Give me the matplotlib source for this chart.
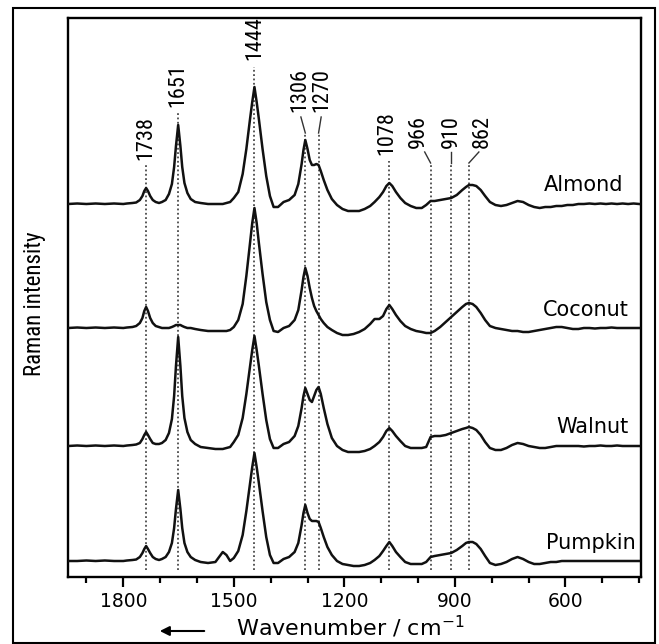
import numpy as np
import matplotlib
matplotlib.use('Agg')
import matplotlib.pyplot as plt
from matplotlib.patches import Rectangle, FancyArrowPatch
from matplotlib.ticker import MultipleLocator

# wavenumber grid (cm-1)
wavenumber = [1950, 1925, 1900, 1875, 1850, 1825, 1800, 1790, 1775, 1765,
              1755, 1748, 1743, 1738, 1733, 1727, 1720, 1712, 1703, 1695,
              1685, 1676, 1668, 1662, 1657, 1651, 1645, 1640, 1634, 1626,
              1617, 1605, 1590, 1570, 1550, 1540, 1530, 1520, 1510, 1500,
              1488, 1476, 1466, 1456, 1450, 1444, 1438, 1432, 1422, 1412,
              1402, 1392, 1380, 1365, 1350, 1335, 1325, 1316, 1311, 1306,
              1300, 1294, 1288, 1282, 1276, 1270, 1264, 1256, 1246, 1234,
              1220, 1205, 1190, 1175, 1160, 1145, 1130, 1118, 1105, 1095,
              1086, 1078, 1070, 1060, 1048, 1035, 1020, 1005, 990, 978,
              966, 955, 940, 925, 910, 895, 880, 870, 862, 852,
              842, 830, 818, 805, 790, 775, 760, 745, 730, 715,
              700, 685, 670, 655, 640, 625, 610, 595, 580, 565,
              550, 535, 520, 505, 490, 475, 460, 445, 430, 415,
              400]

almond = [0, 0.5, 0, 0.5, 0, 0.5, 0, 0.5, 1, 1.5,
          4, 8, 13, 16, 13, 8, 4, 2, 1, 2,
          4, 10, 20, 37, 58, 79, 58, 37, 21, 11,
          5, 2, 1, 0, 0, 0, 0, 1, 2, 6,
          12, 30, 55, 85, 102, 117, 102, 85, 55, 28,
          8, -3, -3, 2, 4, 9, 20, 40, 54, 64,
          55, 44, 39, 39, 40, 39, 33, 24, 14, 5,
          -1, -5, -7, -7, -7, -5, -2, 2, 7, 12,
          18, 21, 18, 12, 6, 1, -2, -4, -4, -1,
          3, 3, 4, 5, 6, 9, 14, 17, 19, 19,
          18, 14, 8, 2, -1, -2, -1, 1, 3, 2,
          -1, -3, -4, -3, -3, -2, -2, -1, -1, 0,
          0, 0.5, 0, 0.5, 0, 0.5, 0, 0.5, 0, 0.5,
          0]

coconut = [0, 0.5, 0, 0.5, 0, 0.5, 0, 0.5, 1, 2,
           5, 10, 17, 21, 17, 10, 5, 2, 1, 0,
           0, 0, 1, 2, 3, 3, 3, 2, 1, 0,
           0, -1, -2, -3, -3, -3, -3, -3, -2, 1,
           8, 24, 52, 85, 105, 120, 105, 85, 54, 26,
           8, -3, -4, 0, 2, 8, 18, 38, 51, 60,
           52, 40, 30, 22, 17, 13, 9, 5, 1, -2,
           -5, -7, -7, -6, -4, -1, 4, 9, 9, 12,
           19, 23, 19, 13, 7, 2, -1, -3, -4, -5,
           -5, -3, 1, 6, 11, 16, 21, 24, 25, 24,
           21, 15, 8, 2, 0, -1, -2, -3, -3, -4,
           -4, -3, -2, -1, 0, 1, 1, 0, -1, -1,
           0, 0, -0.5, 0, 0, 0.5, 0, 0, 0, 0,
           0]

walnut = [0, 0.5, 0, 0.5, 0, 0.5, 0, 0.5, 1, 1.5,
          3, 7, 11, 14, 11, 7, 3, 2, 2, 3,
          6, 13, 27, 50, 80, 109, 80, 50, 28, 14,
          6, 2, -1, -2, -3, -3, -3, -2, -1, 4,
          11, 28, 52, 80, 96, 110, 96, 80, 52, 26,
          7, -2, -2, 2, 4, 10, 20, 38, 50, 58,
          52, 46, 44, 50, 56, 59, 52, 38, 22, 8,
          0, -4, -6, -6, -6, -5, -3, 0, 4, 9,
          15, 18, 15, 10, 5, 0, -2, -2, -2, -1,
          9, 10, 10, 11, 13, 15, 17, 18, 19, 18,
          16, 11, 4, -2, -4, -4, -2, 1, 3, 2,
          0, -1, -2, -2, -1, 0, 0, 0, 0, 0,
          -0.5, 0, 0, 0.5, 0, 0, 0.5, 0, 0, 0,
          0]

pumpkin = [0, 0, 0.5, 0, 0.5, 0, 0, 0.5, 1, 1.5,
           4, 8, 12, 15, 12, 8, 4, 2, 1, 2,
           4, 9, 18, 33, 52, 71, 52, 33, 18, 9,
           4, 1, -1, -2, -1, 4, 9, 6, 0, 3,
           10, 26, 50, 78, 94, 108, 94, 78, 50, 24,
           6, -2, -2, 2, 4, 9, 18, 36, 48, 56,
           48, 42, 40, 40, 40, 39, 33, 24, 14, 6,
           0, -3, -4, -5, -5, -4, -2, 1, 5, 10,
           15, 19, 15, 9, 4, -1, -3, -3, -3, -1,
           4, 5, 6, 7, 8, 11, 15, 18, 19, 19,
           17, 12, 5, -2, -4, -3, -1, 2, 4, 2,
           -1, -3, -3, -2, -1, -1, 0, 0, 0, 0,
           0, 0, 0, 0, 0, 0, 0, 0, 0, 0,
           0]

samples = ['Almond', 'Coconut', 'Walnut', 'Pumpkin']
spectra = [almond, coconut, walnut, pumpkin]
offsets = [373, 249, 131, 16]

peaks = [1738, 1651, 1444, 1306, 1270, 1078, 966, 910, 862]

narrow = ['Roboto Condensed', 'Liberation Sans', 'DejaVu Sans']
wide = 'DejaVu Sans'

fig = plt.figure(figsize=(6.59, 6.44), dpi=100)
ax = fig.add_axes([68/659, 67/644, 573/659, 559/644])

for vals, off in zip(spectra, offsets):
    ax.plot(wavenumber, np.array(vals) + off, color='#111111', lw=1.8,
            zorder=3, solid_joinstyle='round')

# label layout: (text x shift, text bottom, line top, leader)
lab = {1738: (0, 417, 412, None),
       1651: (0, 470, 464, None),
       1444: (0, 517, 510, None),
       1306: (15, 465, 444, (12, 460)),
       1270: (-9, 465, 444, (-7, 460)),
       1078: (7, 422, 416, None),
       966: (32, 429, 414, (16, 425)),
       910: (0, 429, 414, (0, 425)),
       862: (-35, 429, 414, (-27, 425))}

for p in peaks:
    dx, tb, top, lead = lab[p]
    ax.plot([p, p], [7, top], color='#4a4a4a', lw=1.3, ls=(0, (1, 1.4)), zorder=2)
    ax.text(p + dx, tb, str(p), rotation=90, ha='center', va='bottom',
            fontsize=16, family=narrow)
    if lead is not None:
        ax.plot([p + lead[0], p], [lead[1], top], color='#333333', lw=1.0)

label_pos = [(444, 392), (428, 267), (430, 150), (409, 34)]
for s, (lx, ly) in zip(samples, label_pos):
    ax.text(lx, ly, s, ha='right', va='center', fontsize=15, family=wide)

ax.set_xlim(1950, 395)
ax.set_ylim(0, 559)
ax.set_yticks([])
ax.xaxis.set_major_locator(MultipleLocator(300))
ax.xaxis.set_minor_locator(MultipleLocator(100))
ax.tick_params(axis='x', which='major', length=7, width=1.6, direction='out',
               labelsize=13.5, pad=4)
ax.tick_params(axis='x', which='minor', length=4, width=1.6, direction='out')
for lbl in ax.get_xticklabels():
    lbl.set_family(wide)
for sp in ax.spines.values():
    sp.set_linewidth(1.7)

fig.text(35/659, 1 - 304/644, 'Raman intensity', rotation=90, ha='center',
         va='center', fontsize=16.5, family=narrow)
fig.text(350/659, 1 - 636/644, 'Wavenumber / cm$^{-1}$', ha='center',
         va='baseline', fontsize=16, family=wide)
fig.add_artist(FancyArrowPatch(
    (207/659, 1 - 631/644), (157/659, 1 - 631/644), transform=fig.transFigure,
    arrowstyle='-|>', mutation_scale=14, color='black', lw=1.5))

fig.add_artist(Rectangle((13/659, 1/644), 642/659, 635/644,
                         transform=fig.transFigure, fill=False,
                         edgecolor='black', lw=1.5))

fig.savefig('out.png', dpi=100)
